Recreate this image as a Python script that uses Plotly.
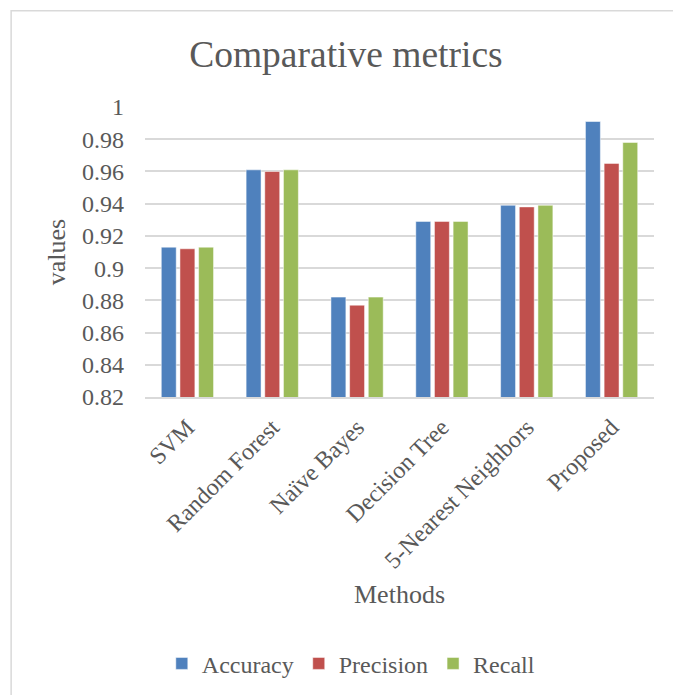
import plotly.graph_objects as go

methods = ["SVM", "Random Forest", "Naïve Bayes", "Decision Tree", "5-Nearest Neighbors", "Proposed"]
accuracy = [0.913, 0.961, 0.882, 0.929, 0.939, 0.991]
precision = [0.912, 0.960, 0.877, 0.929, 0.938, 0.965]
recall = [0.913, 0.961, 0.882, 0.929, 0.939, 0.978]
tick_values = [0.82, 0.84, 0.86, 0.88, 0.90, 0.92, 0.94, 0.96, 0.98, 1.0]
tick_labels = ["0.82", "0.84", "0.86", "0.88", "0.9", "0.92", "0.94", "0.96", "0.98", "1"]

FONT = "Liberation Serif, Times New Roman, serif"
TXT = "#595959"
GRID = "#D9D9D9"

fig = go.Figure()
for name, vals, col in [("Accuracy", accuracy, "#4F81BD"),
                        ("Precision", precision, "#C0504D"),
                        ("Recall", recall, "#9BBB59")]:
    fig.add_trace(go.Bar(name=name, x=methods, y=vals,
                         marker=dict(color=col, line=dict(color="rgba(255,255,255,0.5)", width=1))))

fig.update_layout(
    width=673, height=695,
    margin=dict(l=145, r=19, t=107, b=298, autoexpand=False),
    paper_bgcolor="white", plot_bgcolor="white",
    barmode="group", bargap=0.34, bargroupgap=0.2,
    font=dict(family=FONT, color=TXT, size=24),
    title=dict(text="Comparative metrics", x=0.514, xref="container", xanchor="center",
               y=1 - 53.6 / 695, yref="container", yanchor="middle",
               font=dict(family=FONT, size=37.5, color=TXT)),
    showlegend=True,
    legend=dict(orientation="h", x=0.033, xanchor="left", y=-0.92, yanchor="middle",
                font=dict(family=FONT, size=24, color=TXT), bgcolor="rgba(0,0,0,0)",
                itemclick=False),
    shapes=[dict(type="rect", xref="paper", yref="paper", x0=-0.263, x1=1.3, y0=-1.5, y1=1.332,
                 line=dict(color=GRID, width=1.5), fillcolor="rgba(0,0,0,0)", layer="below")],
)

fig.update_yaxes(range=[0.82, 1.0], tickvals=tick_values, ticktext=tick_labels,
                 showgrid=True, gridcolor=GRID, gridwidth=1.5, zeroline=False,
                 showline=False, ticks="", ticklabelstandoff=20,
                 tickfont=dict(family=FONT, size=24, color=TXT),
                 title=dict(text="values", standoff=8, font=dict(family=FONT, size=26, color=TXT)))
fig.update_xaxes(tickangle=-45, showline=True, linecolor=GRID, linewidth=1.5,
                 ticks="", ticklabelstandoff=5,
                 tickfont=dict(family=FONT, size=24, color=TXT),
                 title=dict(text="Methods", standoff=12, font=dict(family=FONT, size=26, color=TXT)))

fig.write_html("out.html")
